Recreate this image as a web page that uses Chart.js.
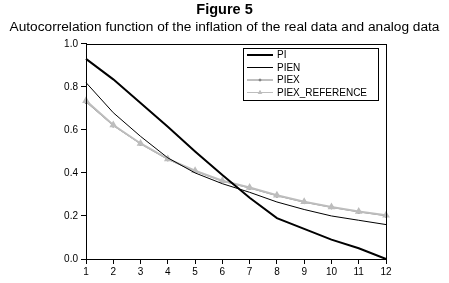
<!DOCTYPE html>
<html>
<head>
<meta charset="utf-8">
<script src="https://cdn.jsdelivr.net/npm/chart.js@4"></script>
<style>
  html, body { margin: 0; padding: 0; background: #fff; }
  #wrap { width: 449px; height: 283px; }
</style>
</head>
<body>
<div id="wrap"><canvas id="acfChart" width="449" height="283"></canvas></div>
<script>
// lags 1..12
const lags = ["1", "2", "3", "4", "5", "6", "7", "8", "9", "10", "11", "12"];

const pi = [0.93, 0.835, 0.725, 0.615, 0.50, 0.39, 0.285, 0.19, 0.14, 0.09, 0.05, 0.0];
const pien = [0.82, 0.68, 0.57, 0.47, 0.40, 0.35, 0.31, 0.265, 0.23, 0.20, 0.18, 0.16];
const piex = [0.73, 0.62, 0.535, 0.463, 0.408, 0.362, 0.330, 0.294, 0.264, 0.240, 0.219, 0.201];
const piexRef = [0.735, 0.623, 0.537, 0.465, 0.410, 0.364, 0.332, 0.296, 0.266, 0.242, 0.221, 0.203];

const FONT = "'Liberation Sans', Arial, sans-serif";

// frame round the plot + boxed legend inside it
const frameAndLegend = {
    id: "frameAndLegend",
    afterDraw(chart) {
        const ctx = chart.ctx;
        const a = chart.chartArea;
        ctx.save();
        ctx.strokeStyle = "#000";
        ctx.lineWidth = 1;
        ctx.strokeRect(Math.round(a.left) + 0.5, Math.round(a.top) + 0.5,
            Math.round(a.right - a.left), Math.round(a.bottom - a.top));

        // legend box
        const bx = 243, by = 48, bw = 135, bh = 52;
        ctx.strokeRect(bx + 0.5, by + 0.5, bw, bh);

        ctx.font = "10px " + FONT;
        ctx.textBaseline = "middle";
        chart.data.datasets.forEach((ds, i) => {
            const y = by + 7 + i * 12.5;
            const x0 = bx + 4, x1 = bx + 30;
            ctx.strokeStyle = ds.borderColor;
            ctx.lineWidth = ds.legendWidth;
            ctx.beginPath();
            ctx.moveTo(x0, y);
            ctx.lineTo(x1, y);
            ctx.stroke();
            if (ds.pointRadius > 0) {
                ctx.fillStyle = ds.pointBackgroundColor;
                Chart.helpers.drawPoint(ctx, {
                    pointStyle: ds.pointStyle,
                    radius: ds.pointRadius - 0.5,
                    borderWidth: 1
                }, (x0 + x1) / 2, y);
            }
            ctx.fillStyle = "#000";
            ctx.fillText(ds.label, x1 + 4, y + 0.5);
        });
        ctx.restore();
    }
};

new Chart(document.getElementById("acfChart").getContext("2d"), {
    type: "line",
    data: {
        labels: lags,
        datasets: [
            {
                label: "PI",
                data: pi,
                borderColor: "#000",
                borderWidth: 2,
                legendWidth: 2,
                pointRadius: 0,
                tension: 0,
                order: 0
            },
            {
                label: "PIEN",
                data: pien,
                borderColor: "#000",
                borderWidth: 1,
                legendWidth: 1,
                pointRadius: 0,
                tension: 0,
                order: 1
            },
            {
                label: "PIEX",
                data: piex,
                borderColor: "#808080",
                backgroundColor: "#808080",
                pointBackgroundColor: "#808080",
                pointBorderColor: "#808080",
                borderWidth: 1,
                legendWidth: 1,
                pointStyle: "circle",
                pointRadius: 1.5,
                tension: 0,
                order: 3
            },
            {
                label: "PIEX_REFERENCE",
                data: piexRef,
                borderColor: "#bdbdbd",
                backgroundColor: "#bdbdbd",
                pointBackgroundColor: "#bdbdbd",
                pointBorderColor: "#bdbdbd",
                borderWidth: 2,
                legendWidth: 1,
                pointStyle: "triangle",
                pointRadius: 2.5,
                tension: 0,
                order: 2
            }
        ]
    },
    options: {
        responsive: false,
        animation: false,
        layout: { padding: { left: 0, right: 0, top: 0, bottom: 3 } },
        plugins: {
            legend: { display: false },
            tooltip: { enabled: false },
            title: {
                display: true,
                text: "Figure 5",
                color: "#000",
                font: { size: 14.5, weight: "bold", family: FONT },
                padding: { top: 1, bottom: 0 }
            },
            subtitle: {
                display: true,
                text: "Autocorrelation function of the inflation of the real data and analog data",
                color: "#000",
                font: { size: 13.7, family: FONT },
                padding: { top: 1, bottom: 8 }
            }
        },
        scales: {
            x: {
                offset: false,
                grid: { drawOnChartArea: false, drawTicks: true, tickLength: 5, color: "#000" },
                border: { color: "#000" },
                ticks: { color: "#000", font: { size: 10, family: FONT }, padding: 2, maxRotation: 0 }
            },
            y: {
                min: 0,
                max: 1,
                afterFit(scale) { scale.width = 86; },
                grid: { drawOnChartArea: false, drawTicks: true, tickLength: 5, color: "#000" },
                border: { color: "#000" },
                ticks: {
                    stepSize: 0.2,
                    color: "#000",
                    font: { size: 10, family: FONT },
                    padding: 3,
                    callback: v => v.toFixed(1)
                }
            },
            // empty right axis, only keeps the blank margin on the right
            yRight: {
                position: "right",
                min: 0,
                max: 1,
                afterFit(scale) { scale.width = 63; },
                grid: { display: false },
                border: { display: false },
                ticks: { display: false }
            }
        }
    },
    plugins: [frameAndLegend]
});
</script>
</body>
</html>
